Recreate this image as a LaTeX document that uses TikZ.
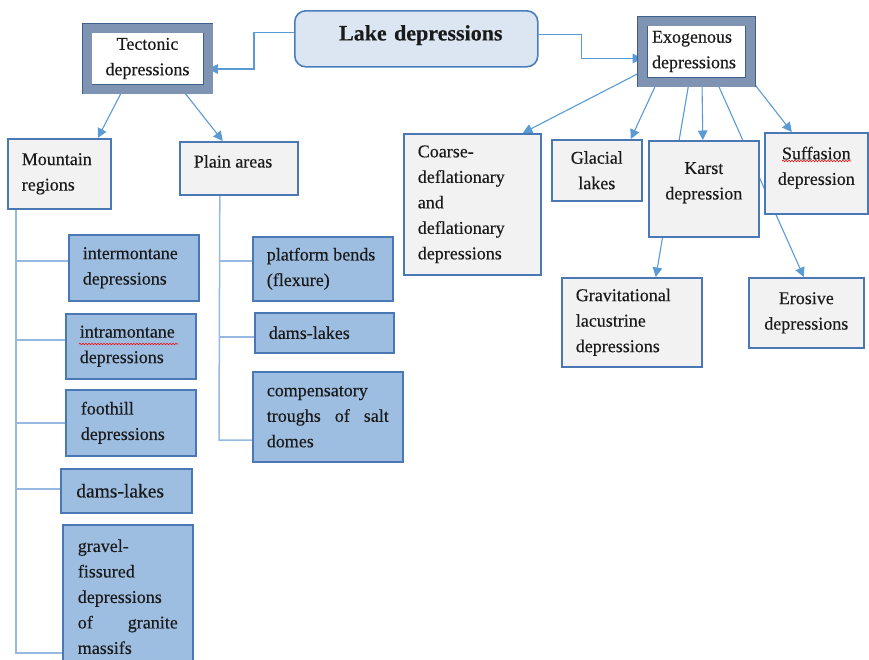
\documentclass[tikz,border=0pt]{standalone}
\usepackage{fontspec}
\setmainfont{Liberation Serif}[FakeBold=0.3]
\usetikzlibrary{arrows.meta,backgrounds,calc,decorations.pathmorphing}
\definecolor{lakefill}{HTML}{DCE6F2}
\definecolor{lakeline}{HTML}{4A7EBB}
\definecolor{framec}{HTML}{7F93B3}
\definecolor{framedark}{HTML}{3F5F8F}
\definecolor{boxline}{HTML}{4A78B4}
\definecolor{greyfill}{HTML}{F2F2F2}
\definecolor{leaffill}{HTML}{9DBDE1}
\definecolor{arrowc}{HTML}{5B9BD5}
\definecolor{treec}{HTML}{95B9E0}
\definecolor{textc}{HTML}{1A1A1A}
\tikzset{
  base/.style={font=\fontsize{18}{25.5}\selectfont, text=textc, inner xsep=14pt, inner ysep=0pt, anchor=north west},
  greybox/.style={base, draw=boxline, fill=greyfill, line width=1.6pt},
  leafbox/.style={base, draw=boxline, fill=leaffill, line width=1.6pt},
  framebox/.style={font=\fontsize{18}{25.5}\selectfont, text=textc, draw=framedark, line width=0.7pt,
                   double=framec, double distance=9pt, fill=white, inner ysep=0pt},
  arr/.style={draw=arrowc, line width=1.1pt, -{Triangle[length=9.5pt,width=9.5pt]}},
  tree/.style={draw=treec, line width=1.5pt},
  squiggle/.style={draw=red, line width=0.6pt, decorate, decoration={snake, amplitude=0.7pt, segment length=3pt}},
}
\begin{document}
\begin{tikzpicture}[x=1pt,y=-1pt]
\useasboundingbox (0,0) rectangle (869,659);

% top level
\node[draw=lakeline, fill=lakefill, line width=1.6pt, rounded corners=11pt,
      minimum width=243pt, minimum height=56pt, anchor=north west, text=textc,
      text width=233pt, inner xsep=5pt, inner ysep=0pt, align=center,
      font=\fontsize{22}{26}\selectfont\bfseries] (lake) at (294,10) {\hspace*{9pt}Lake depressions\\[-14pt]\mbox{}};
\node[framebox, minimum width=121pt, minimum height=61pt, text width=101pt, inner xsep=10pt, align=center]
      (tect) at (147.5,58.5) {Tectonic\\depressions};
\node[framebox, minimum width=108pt, minimum height=61pt, text width=89pt, inner xsep=9.5pt, align=flush left]
      (exo) at (696.5,51.5) {Exogenous\\depressions};

% tectonic branch
\node[greybox, minimum height=70pt, text width=75pt, align=flush left] (mount) at (7,138) {Mountain\\regions};
\node[greybox, minimum height=53pt, text width=90pt, align=flush left] (plain) at (179,141) {Plain areas\\[-11.5pt]\mbox{}};

\node[leafbox, minimum height=66pt, text width=102pt, align=flush left] (im) at (68,234) {intermontane\\depressions};
\node[leafbox, minimum height=65pt, text width=102pt, align=flush left] (ia) at (65,313) {intramontane\\depressions};
\node[leafbox, minimum height=66pt, inner xsep=15pt, text width=100pt, align=flush left] (fh) at (65,389) {foothill\\depressions};
\node[leafbox, minimum height=44pt, text width=100pt, inner xsep=15.5pt, align=flush left,
      font=\fontsize{19.5}{25.5}\selectfont] (dl1) at (60,468) {dams-lakes};
\node[leafbox, minimum height=144pt, text width=100pt, inner xsep=15pt, align=flush left] (gv) at (62,524)
      {gravel-\\fissured\\depressions\\\makebox[\hsize][s]{of\hfill granite}\\massifs};

\node[leafbox, minimum height=64pt, text width=112pt, align=flush left] (pb) at (252,236) {platform bends\\(flexure)};
\node[leafbox, minimum height=40pt, text width=111pt, align=flush left] (dl2) at (254,312) {dams-lakes};
\node[leafbox, minimum height=90pt, text width=122pt, align=flush left] (comp) at (252,371)
      {compensatory\\\makebox[\hsize][s]{troughs\hfill of\hfill salt}\\domes};

% exogenous branch
\node[greybox, minimum height=141pt, text width=109pt, align=flush left] (coarse) at (403,133)
      {Coarse-\\deflationary\\and\\deflationary\\depressions};
\node[greybox, minimum height=61pt, text width=80pt, inner xsep=5pt, align=center] (glac) at (551,139) {Glacial\\lakes};
\node[greybox, minimum height=96pt, text width=100pt, inner xsep=5pt, align=center] (karst) at (648,140) {Karst\\depression\\[-9.5pt]\mbox{}};
\node[greybox, minimum height=81pt, text width=93pt, inner xsep=5pt, align=center] (suff) at (764,132) {Suffasion\\depression\\[-10.5pt]\mbox{}};
\node[greybox, minimum height=89pt, text width=112pt, align=flush left] (grav) at (561,277)
      {Gravitational\\lacustrine\\depressions};
\node[greybox, minimum height=70pt, text width=105pt, inner xsep=5pt, align=center] (eros) at (748,277)
      {Erosive\\depressions};

% spelling marks
\draw[squiggle] (79,344) -- (178,344);
\draw[squiggle] (782,161) -- (851,161);

\begin{scope}[on background layer]
  \fill[white] (0,0) rectangle (869,659);
  % top connectors
  \draw[arr] ([yshift=6pt]lake.west) -- ++(-40,0) |- ([yshift=-10.5pt]tect.east);
  \draw[arr] ([yshift=4pt]lake.east) -- ++(43,0) |- ([yshift=-7pt]exo.west);
  % tectonic
  \draw[arr] ([xshift=-24.5pt]tect.south) -- ([xshift=38.5pt]mount.north);
  \draw[arr] ([xshift=34.5pt]tect.south) -- ([xshift=-16pt]plain.north);
  % exogenous
  \draw[arr] ([yshift=-20pt]exo.west) -- ([xshift=50.5pt]coarse.north);
  \draw[arr] ([xshift=-39.5pt]exo.south) -- ([xshift=34pt]glac.north);
  \draw[arr] ([xshift=-7.5pt]exo.south) -- ([xshift=24pt]grav.north);
  \draw[arr] ([xshift=5.5pt]exo.south) -- ([xshift=-1pt]karst.north);
  \draw[arr] ([xshift=20.5pt]exo.south) -- ([xshift=-2.5pt]eros.north);
  \draw[arr] ([yshift=-28pt]exo.east) -- ([xshift=-24.5pt]suff.north);
  % mountain tree
  \coordinate (mbot) at (16,653);
  \draw[tree] ([xshift=9pt]mount.south west) -- (mbot) -- (mbot -| gv.west);
  \draw[tree] ([yshift=7pt]mbot |- im.west) -- ([yshift=7pt]im.west);
  \draw[tree] ([yshift=6.5pt]mbot |- ia.west) -- ([yshift=6.5pt]ia.west);
  \draw[tree] (mbot |- fh.west) -- (fh.west);
  \draw[tree] ([yshift=2pt]mbot |- dl1.west) -- ([yshift=2pt]dl1.west);
  % plain tree
  \coordinate (pbot) at (219,440);
  \draw[tree] ([xshift=-19pt]plain.south) -- (pbot) -- (pbot -| comp.west);
  \draw[tree] ([yshift=8pt]pbot |- pb.west) -- ([yshift=8pt]pb.west);
  \draw[tree] ([yshift=-4pt]pbot |- dl2.west) -- ([yshift=-4pt]dl2.west);
\end{scope}
\end{tikzpicture}
\end{document}
